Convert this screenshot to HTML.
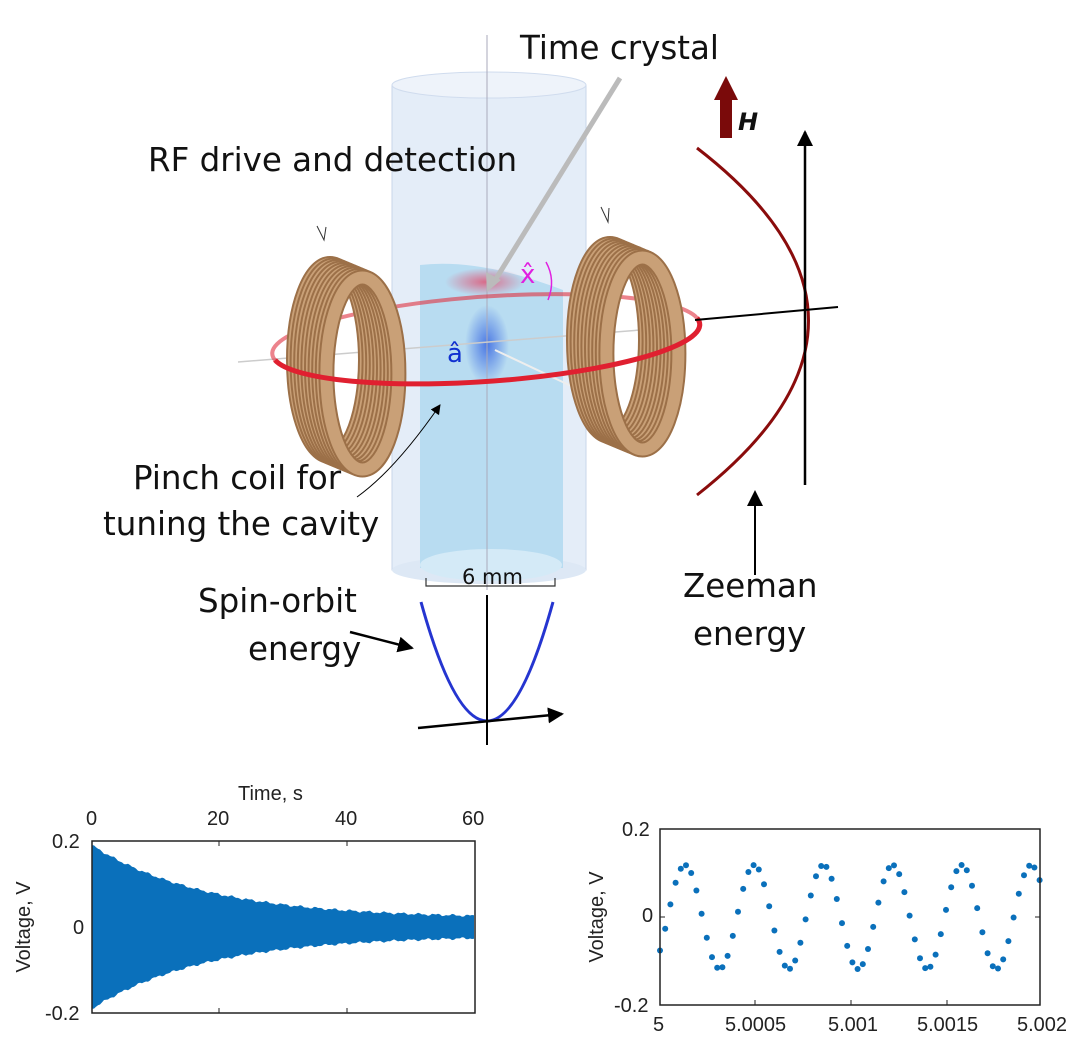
<!DOCTYPE html>
<html><head><meta charset="utf-8"><style>
body{margin:0;background:#fff}
svg{display:block}
.t{font-family:"DejaVu Sans","Liberation Sans",sans-serif;font-size:32.5px;fill:#111}
.p{font-family:"Liberation Sans",sans-serif;font-size:20px;fill:#222}
</style></head><body>
<svg width="1080" height="1039" viewBox="0 0 1080 1039" xmlns="http://www.w3.org/2000/svg">
<defs>
<radialGradient id="rb"><stop offset="0" stop-color="#e05070" stop-opacity=".8"/><stop offset="1" stop-color="#e05070" stop-opacity="0"/></radialGradient>
<radialGradient id="bb"><stop offset="0" stop-color="#3060e0" stop-opacity=".8"/><stop offset="1" stop-color="#3060e0" stop-opacity="0"/></radialGradient>
<marker id="ah" markerWidth="10" markerHeight="10" refX="9" refY="5" orient="auto" markerUnits="userSpaceOnUse"><path d="M0,0 L10,5 L0,10 z" fill="#000"/></marker>
<marker id="ah2" markerWidth="16" markerHeight="16" refX="14" refY="8" orient="auto" markerUnits="userSpaceOnUse"><path d="M0,0 L16,8 L0,16 z" fill="#000"/></marker>
</defs>
<rect x="392" y="85" width="194" height="485" fill="#e4edf8" stroke="#c8d6ea"/>
<ellipse cx="489" cy="85" rx="97" ry="13" fill="#eef3fa" stroke="#d0dcee"/>
<ellipse cx="489" cy="570" rx="97" ry="14" fill="#dde8f5"/>
<path d="M420,265 Q480,258 563,290 L563,568 L420,568 z" fill="#b8dcf1"/>
<ellipse cx="491" cy="565" rx="71" ry="16" fill="#d4eaf7"/>
<ellipse cx="485" cy="282" rx="40" ry="14" fill="url(#rb)"/>
<ellipse cx="487" cy="345" rx="22" ry="40" fill="url(#bb)"/>
<line x1="487" y1="35" x2="487" y2="590" stroke="#aab" stroke-width="1"/>
<line x1="238" y1="362" x2="640" y2="330" stroke="#ccc" stroke-width="1.5"/>
<line x1="495" y1="350" x2="605" y2="402" stroke="#eee" stroke-width="2"/>
<path d="M275,360 A212,42 -4 0 1 697,318" fill="none" stroke="#e03040" stroke-width="4" opacity=".6"/>
<g id="lc" fill="none"></g>
<g id="rc" fill="none"></g>
<path d="M275,360 A212,42 -4 0 0 697,318" fill="none" stroke="#e02030" stroke-width="5"/>
<line x1="620" y1="78" x2="494" y2="282" stroke="#bbb" stroke-width="5"/>
<path d="M487,292 L486,272 L501,280 z" fill="#bbb"/>
<path d="M317,226 L324,240 L326,227" fill="none" stroke="#333" stroke-width="1"/>
<path d="M601,207 L608,222 L609,208" fill="none" stroke="#333" stroke-width="1"/>
<text x="520" y="283" style="font-family:'DejaVu Sans',sans-serif;font-size:26px;fill:#e020e0">x̂</text>
<path d="M546,262 Q556,280 548,300" fill="none" stroke="#e020e0" stroke-width="1.5"/>
<text x="447" y="362" style="font-family:'DejaVu Sans',sans-serif;font-size:26px;fill:#1030d0">â</text>
<path d="M426,578 V586 H555 V578" fill="none" stroke="#333" stroke-width="1.2"/>
<text x="462" y="584" style="font-family:'DejaVu Sans',sans-serif;font-size:21px;fill:#111">6 mm</text>
<rect x="720" y="98" width="12" height="40" fill="#7a0a0a"/>
<path d="M714,100 L726,76 L738,100 z" fill="#7a0a0a"/>
<text x="738" y="130" style="font-family:'DejaVu Sans',sans-serif;font-size:24px;font-weight:bold;font-style:italic;fill:#111">H</text>
<path d="M697,148 Q920,320 697,495" fill="none" stroke="#8a0c0c" stroke-width="3"/>
<line x1="805" y1="485" x2="805" y2="132" stroke="#000" stroke-width="2.5" marker-end="url(#ah2)"/>
<line x1="695" y1="320" x2="838" y2="307" stroke="#000" stroke-width="2"/>
<line x1="755" y1="575" x2="755" y2="492" stroke="#000" stroke-width="2" marker-end="url(#ah2)"/>
<path d="M421,602 Q487,840 553,602" fill="none" stroke="#2535d0" stroke-width="3"/>
<line x1="487" y1="595" x2="487" y2="745" stroke="#000" stroke-width="2"/>
<line x1="418" y1="728" x2="562" y2="714" stroke="#000" stroke-width="2.5" marker-end="url(#ah2)"/>
<line x1="350" y1="632" x2="412" y2="648" stroke="#000" stroke-width="2.5" marker-end="url(#ah2)"/>
<path d="M357,497 Q395,470 440,405" fill="none" stroke="#000" stroke-width="1" marker-end="url(#ah)"/>
<text class="t" x="520" y="59">Time crystal</text>
<text class="t" x="148" y="171">RF drive and detection</text>
<text class="t" x="133" y="489">Pinch coil for</text>
<text class="t" x="103" y="535">tuning the cavity</text>
<text class="t" x="198" y="612">Spin-orbit</text>
<text class="t" x="248" y="660">energy</text>
<text class="t" x="683" y="597">Zeeman</text>
<text class="t" x="693" y="645">energy</text>
<path id="env" fill="#0a70bb" d=""/>
<rect x="92" y="841" width="383" height="172" fill="none" stroke="#222" stroke-width="1.5"/>
<g stroke="#222" stroke-width="1"><line x1="219" y1="841" x2="219" y2="846"/><line x1="347" y1="841" x2="347" y2="846"/><line x1="219" y1="1013" x2="219" y2="1008"/><line x1="347" y1="1013" x2="347" y2="1008"/></g>
<text class="p" x="238" y="800">Time, s</text>
<text class="p" x="86" y="825">0</text><text class="p" x="207" y="825">20</text><text class="p" x="335" y="825">40</text><text class="p" x="462" y="825">60</text>
<text class="p" x="52" y="848">0.2</text><text class="p" x="73" y="934">0</text><text class="p" x="45" y="1020">-0.2</text>
<text class="p" transform="translate(30,927) rotate(-90)" text-anchor="middle">Voltage, V</text>
<g id="dots" fill="#0a70bb"></g>
<rect x="660" y="829" width="380" height="176" fill="none" stroke="#222" stroke-width="1.5"/>
<g stroke="#222" stroke-width="1"><line x1="755" y1="1005" x2="755" y2="1000"/><line x1="851" y1="1005" x2="851" y2="1000"/><line x1="947" y1="1005" x2="947" y2="1000"/><line x1="660" y1="917" x2="665" y2="917"/><line x1="1040" y1="917" x2="1035" y2="917"/></g>
<text class="p" x="622" y="836">0.2</text><text class="p" x="642" y="922">0</text><text class="p" x="614" y="1012">-0.2</text>
<text class="p" x="653" y="1031">5</text><text class="p" x="725" y="1031">5.0005</text><text class="p" x="828" y="1031">5.001</text><text class="p" x="917" y="1031">5.0015</text><text class="p" x="1017" y="1031">5.002</text>
<text class="p" transform="translate(603,917) rotate(-90)" text-anchor="middle">Voltage, V</text>
</svg>
<script>
(function(){
function coil(id,cx,cy,n){var s='';for(var k=0;k<n;k++){var x=cx+k*3.6,y=cy+k*1.5;
s+='<ellipse cx="'+x+'" cy="'+y+'" rx="36" ry="96" stroke="#9c7048" stroke-width="16"/>';
s+='<ellipse cx="'+x+'" cy="'+y+'" rx="36" ry="96" stroke="#c9a077" stroke-width="12"/>';}
document.getElementById(id).innerHTML=s;}
coil('lc',330,360,10);coil('rc',610,340,10);
var top=[],bot=[];
for(var i=0;i<=383;i+=2){var t=i/383*60;var a=0.02+0.17*Math.exp(-t/18);a+=0.002*Math.sin(i*0.37)+0.0015*Math.sin(i*0.91);
var h=a/0.2*86;top.push((92+i)+','+(927-h).toFixed(1));bot.unshift((92+i)+','+(927+h).toFixed(1));}
document.getElementById('env').setAttribute('d','M'+top.join(' L')+' L'+bot.join(' L')+' Z');
var g=document.getElementById('dots'),s='';
for(var x=660;x<=1040;x+=5.2){var y=917-52*Math.sin((x-685)/69.2*2*Math.PI+Math.PI/2);
s+='<circle cx="'+x.toFixed(1)+'" cy="'+y.toFixed(1)+'" r="3"/>';}
g.innerHTML=s;
})();
</script>
</body></html>
